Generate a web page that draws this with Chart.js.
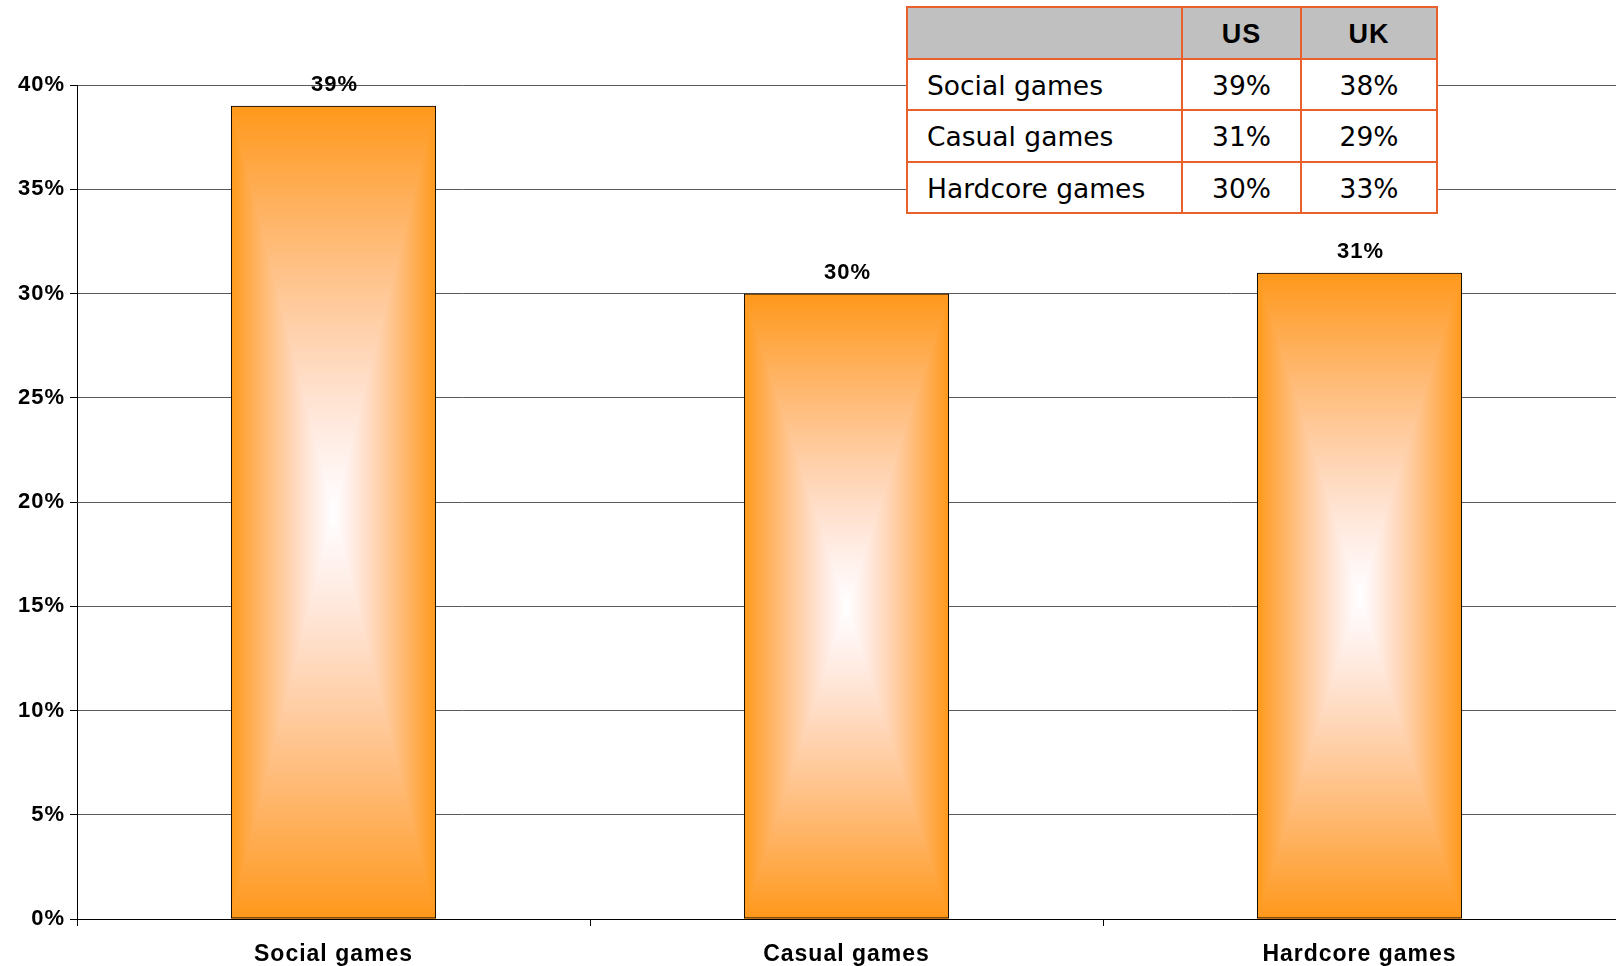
<!DOCTYPE html>
<html>
<head>
<meta charset="utf-8">
<script src="https://cdn.jsdelivr.net/npm/chart.js@4/dist/chart.umd.min.js"></script>
<style>
  html, body { margin: 0; padding: 0; background: #fff; }
  #wrap { position: relative; width: 1616px; height: 966px; overflow: hidden; }
  #chart { position: absolute; left: 0; top: 0; }
  #summary {
    position: absolute; left: 906px; top: 6px;
    border-collapse: collapse; table-layout: fixed;
    background: #fff;
    font-family: "DejaVu Sans", Verdana, sans-serif; font-size: 26.5px; color: #000;
  }
  #summary td, #summary th {
    border: 2px solid #E8612C; height: 46.5px; padding: 3px 0 0 0; line-height: 1;
  }
  #summary th { background: #C0C0C0; font-family: "Liberation Sans", Arial, sans-serif; font-weight: bold; font-size: 27px; letter-spacing: 1px; text-align: center; }
  #summary td { text-align: center; }
  #summary td.name { text-align: left; padding-left: 19px; }
</style>
</head>
<body>
<div id="wrap">
  <canvas id="chart" width="1616" height="966"></canvas>
  <table id="summary"></table>
</div>
<script>
// Chart series
const categories = ['Social games', 'Casual games', 'Hardcore games'];
const shares = [39, 30, 31];
const yTicks = [0, 5, 10, 15, 20, 25, 30, 35, 40];

// Summary table content
const tableColumns = ['', 'US', 'UK'];
const tableRowNames = ['Social games', 'Casual games', 'Hardcore games'];
const usShares = [39, 31, 30];
const ukShares = [38, 29, 33];

// Build the summary table
(function buildTable() {
  const table = document.getElementById('summary');
  const widths = [275, 119, 136];
  const cg = document.createElement('colgroup');
  widths.forEach(w => { const c = document.createElement('col'); c.style.width = w + 'px'; cg.appendChild(c); });
  table.appendChild(cg);
  const head = document.createElement('tr');
  tableColumns.forEach(t => { const th = document.createElement('th'); th.textContent = t; head.appendChild(th); });
  table.appendChild(head);
  tableRowNames.forEach((name, i) => {
    const tr = document.createElement('tr');
    const a = document.createElement('td'); a.className = 'name'; a.textContent = name; tr.appendChild(a);
    const b = document.createElement('td'); b.textContent = usShares[i] + '%'; tr.appendChild(b);
    const c = document.createElement('td'); c.textContent = ukShares[i] + '%'; tr.appendChild(c);
    table.appendChild(tr);
  });
})();

const ORANGE = [255, 152, 26];

// Rectangular "from centre" gradient fill behind each bar
const centreGradientFill = {
  id: 'centreGradientFill',
  beforeDatasetDraw(chart, args) {
    const ctx = chart.ctx;
    args.meta.data.forEach(bar => {
      const p = bar.getProps(['x', 'y', 'base', 'width'], true);
      const l = Math.round(p.x - p.width / 2), r = Math.round(p.x + p.width / 2);
      const t = Math.round(Math.min(p.y, p.base)), b = Math.round(Math.max(p.y, p.base));
      const w = r - l, h = b - t;
      if (w <= 0 || h <= 0) return;
      const off = document.createElement('canvas');
      off.width = w; off.height = h;
      const octx = off.getContext('2d');
      const img = octx.createImageData(w, h);
      const hw = w / 2, hh = h / 2;
      for (let j = 0; j < h; j++) {
        const dy = Math.abs(j + 0.5 - hh) / hh;
        for (let i = 0; i < w; i++) {
          const dx = Math.abs(i + 0.5 - hw) / hw;
          const k = Math.min(1, Math.max(dx, dy));
          const idx = (j * w + i) * 4;
          img.data[idx] = 255 - (255 - ORANGE[0]) * k;
          img.data[idx + 1] = 255 - (255 - ORANGE[1]) * k;
          img.data[idx + 2] = 255 - (255 - ORANGE[2]) * Math.pow(k, 1.25);
          img.data[idx + 3] = 255;
        }
      }
      octx.putImageData(img, 0, 0);
      ctx.drawImage(off, l, t);
    });
  }
};

// Slightly open letter spacing for all chart text
const textSpacing = {
  id: 'textSpacing',
  beforeUpdate(chart) { chart.ctx.letterSpacing = '1px'; },
  beforeDraw(chart) { chart.ctx.letterSpacing = '1px'; }
};

// Value labels above the bars
const valueLabels = {
  id: 'valueLabels',
  afterDatasetsDraw(chart) {
    const ctx = chart.ctx;
    const meta = chart.getDatasetMeta(0);
    ctx.save();
    ctx.font = 'bold 22px "Liberation Sans", Arial, sans-serif';
    ctx.fillStyle = '#000';
    ctx.textAlign = 'center';
    ctx.textBaseline = 'alphabetic';
    meta.data.forEach((bar, i) => {
      ctx.fillText(shares[i] + '%', bar.x + 1, bar.y - 15);
    });
    ctx.restore();
  }
};

new Chart(document.getElementById('chart'), {
  type: 'bar',
  data: {
    labels: categories,
    datasets: [{
      data: shares,
      backgroundColor: 'rgba(0,0,0,0)',
      borderColor: '#000',
      borderWidth: 1,
      borderSkipped: false,
      barPercentage: 0.4,
      categoryPercentage: 1.0
    }]
  },
  options: {
    responsive: false,
    animation: false,
    devicePixelRatio: 1,
    layout: { padding: { top: 85, right: 0, bottom: 0, left: 0 } },
    plugins: { legend: { display: false }, tooltip: { enabled: false } },
    scales: {
      x: {
        offset: true,
        grid: { offset: true, drawOnChartArea: false, drawTicks: true, tickLength: 7, tickColor: '#000', color: '#000' },
        border: { display: true, color: '#000', width: 1 },
        ticks: {
          color: '#000', padding: 15,
          font: { family: '"Liberation Sans", Arial, sans-serif', size: 23, weight: 'bold' }
        },
        afterFit(scale) { scale.height = 47; }
      },
      y: {
        min: 0, max: 40,
        afterBuildTicks(scale) { scale.ticks = yTicks.map(v => ({ value: v })); },
        grid: { color: '#5a5a5a', lineWidth: 1, drawTicks: true, tickLength: 7, tickColor: '#000' },
        border: { display: true, color: '#000', width: 1 },
        ticks: {
          color: '#000', padding: 5,
          font: { family: '"Liberation Sans", Arial, sans-serif', size: 22, weight: 'bold' },
          callback: v => v + '%'
        },
        afterFit(scale) { scale.width = 77; }
      }
    }
  },
  plugins: [textSpacing, centreGradientFill, valueLabels]
});
</script>
</body>
</html>
